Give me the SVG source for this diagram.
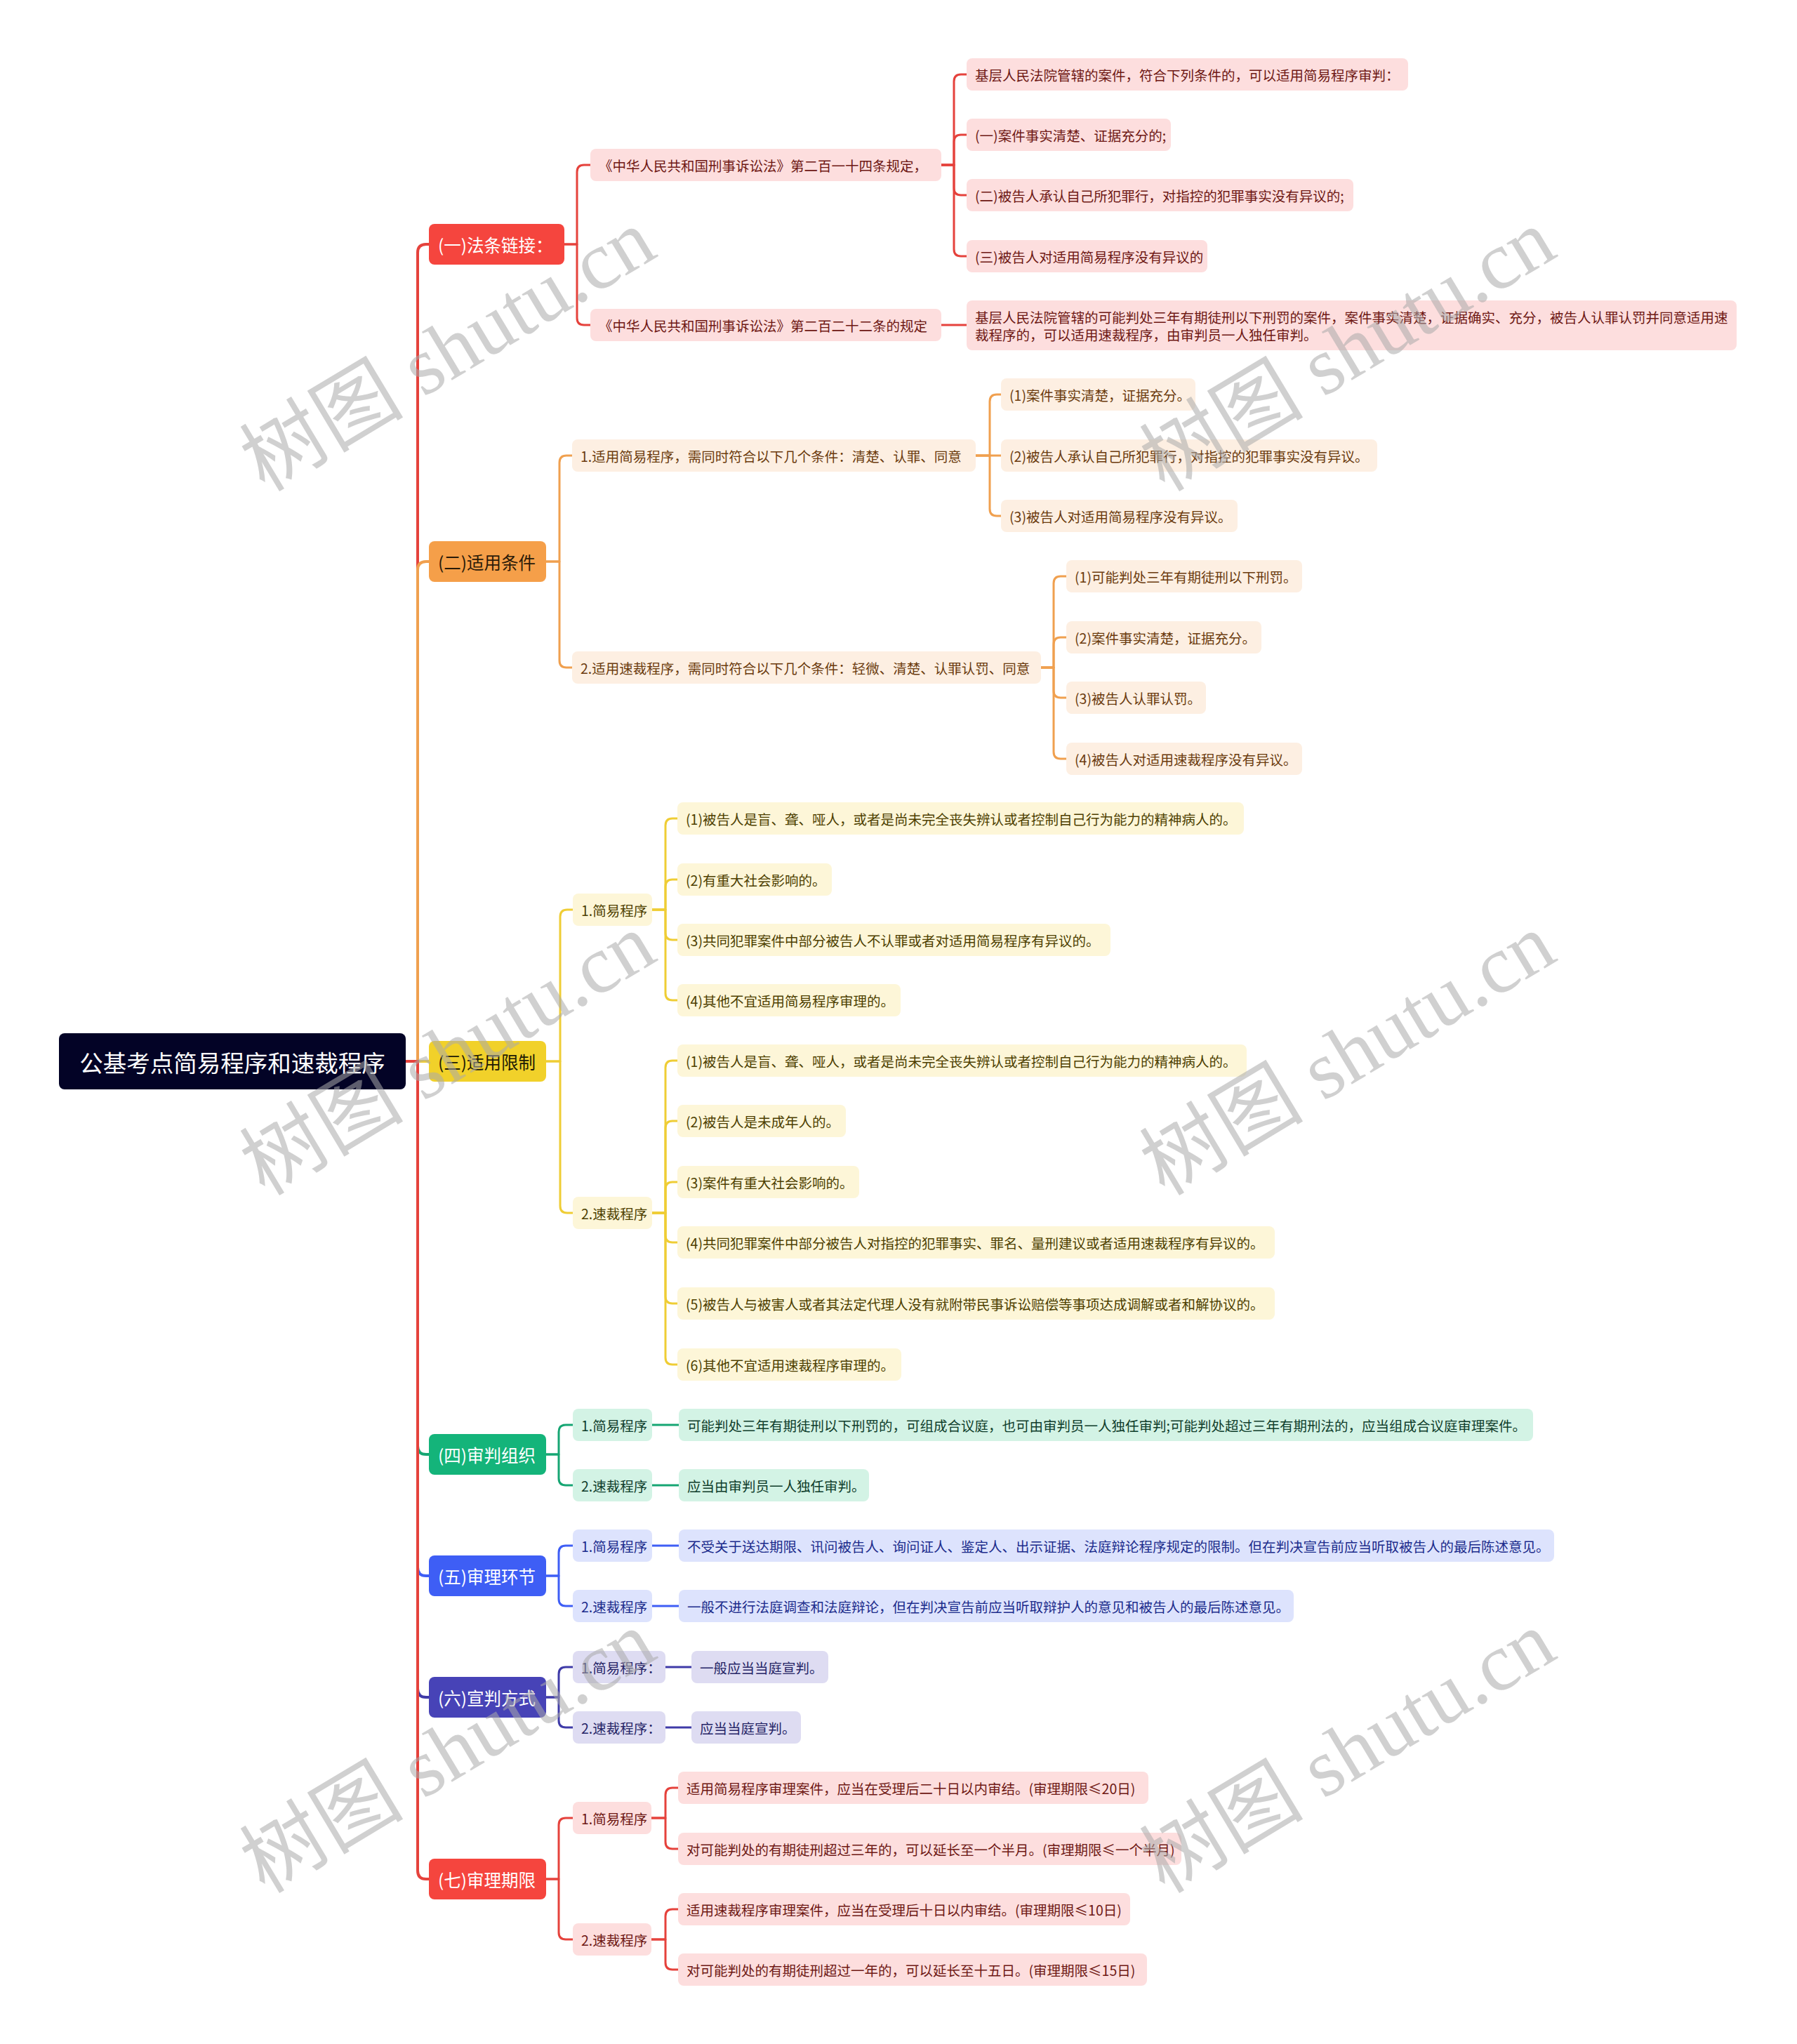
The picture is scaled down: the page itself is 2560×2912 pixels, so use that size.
<svg xmlns="http://www.w3.org/2000/svg" width="2560" height="2912" viewBox="0 0 2560 2912">
<style>
text{font-family:"Noto Sans CJK SC","Noto Sans",sans-serif;}
.t{font-size:19.5px;dominant-baseline:central;}
.l1t{font-size:24.5px;dominant-baseline:central;}
.c{fill:none;stroke-width:3;stroke-linecap:round;stroke-linejoin:round;}
.trunk{stroke-width:4;}
.cr{stroke:#e5423c;}.co{stroke:#f0a04f;}.cy{stroke:#efcd35;}.cg{stroke:#16a673;}.cb{stroke:#3e5ef5;}.ci{stroke:#3f3ba8;}
.r1{fill:#f5453e;}.o1{fill:#f59f49;}.y1{fill:#f1d12a;}.g1{fill:#14b47a;}.b1{fill:#3e5ef5;}.i1{fill:#4743b7;}
.rs{fill:#fddede;}.os{fill:#fdefe2;}.ys{fill:#fdf6d8;}.gs{fill:#d3f3e5;}.bs{fill:#dde3fd;}.is{fill:#dedcf2;}
.rt{fill:#6e1814;}.ot{fill:#6b3b0e;}.yt{fill:#4d3f00;}.gt{fill:#0f3d2b;}.bt{fill:#1c2c8c;}.it{fill:#262567;}
.wt{fill:#ffffff;}.dk{fill:#2a1a08;}
.wm{font-family:"Liberation Serif","Noto Sans CJK SC",serif;font-size:117px;fill:#aaaaaa;fill-opacity:0.55;}
</style>
<rect width="2560" height="2912" fill="#ffffff"/>

<g id="connectors">
<path class="c trunk cr" d="M578 1512 H595 V360 Q595 348 607 348 H611"/>
<path class="c trunk co" d="M578 1512 H595 V812 Q595 800 607 800 H611"/>
<path class="c trunk cy" d="M578 1512 H611"/>
<path class="c trunk cg" d="M578 1512 H595 V2060 Q595 2072 607 2072 H611"/>
<path class="c trunk cb" d="M578 1512 H595 V2233 Q595 2245 607 2245 H611"/>
<path class="c trunk ci" d="M578 1512 H595 V2406 Q595 2418 607 2418 H611"/>
<path class="c trunk cr" d="M578 1512 H595 V2665 Q595 2677 607 2677 H611"/>
<path class="c cr" d="M804 348 H822 V245 Q822 235 832 235 H841"/>
<path class="c cr" d="M804 348 H822 V453 Q822 463 832 463 H841"/>
<path class="c cr" d="M1341 235 H1359 V116 Q1359 106 1369 106 H1377"/>
<path class="c cr" d="M1341 235 H1359 V202 Q1359 192 1369 192 H1377"/>
<path class="c cr" d="M1341 235 H1359 V268 Q1359 278 1369 278 H1377"/>
<path class="c cr" d="M1341 235 H1359 V355 Q1359 365 1369 365 H1377"/>
<path class="c cr" d="M1341 463 H1377"/>
<path class="c co" d="M778 800 H797 V659 Q797 649 807 649 H815"/>
<path class="c co" d="M778 800 H797 V941 Q797 951 807 951 H815"/>
<path class="c co" d="M1390 649 H1410 V572 Q1410 562 1420 562 H1426"/>
<path class="c co" d="M1390 649 H1426"/>
<path class="c co" d="M1390 649 H1410 V725 Q1410 735 1420 735 H1426"/>
<path class="c co" d="M1483 951 H1501 V831 Q1501 821 1511 821 H1519"/>
<path class="c co" d="M1483 951 H1501 V918 Q1501 908 1511 908 H1519"/>
<path class="c co" d="M1483 951 H1501 V984 Q1501 994 1511 994 H1519"/>
<path class="c co" d="M1483 951 H1501 V1071 Q1501 1081 1511 1081 H1519"/>
<path class="c cy" d="M778 1512 H798 V1306 Q798 1296 808 1296 H816"/>
<path class="c cy" d="M778 1512 H798 V1718 Q798 1728 808 1728 H816"/>
<path class="c cy" d="M929 1296 H948 V1176 Q948 1166 958 1166 H965"/>
<path class="c cy" d="M929 1296 H948 V1263 Q948 1253 958 1253 H965"/>
<path class="c cy" d="M929 1296 H948 V1329 Q948 1339 958 1339 H965"/>
<path class="c cy" d="M929 1296 H948 V1415 Q948 1425 958 1425 H965"/>
<path class="c cy" d="M929 1728 H948 V1521 Q948 1511 958 1511 H965"/>
<path class="c cy" d="M929 1728 H948 V1607 Q948 1597 958 1597 H965"/>
<path class="c cy" d="M929 1728 H948 V1694 Q948 1684 958 1684 H965"/>
<path class="c cy" d="M929 1728 H948 V1760 Q948 1770 958 1770 H965"/>
<path class="c cy" d="M929 1728 H948 V1847 Q948 1857 958 1857 H965"/>
<path class="c cy" d="M929 1728 H948 V1934 Q948 1944 958 1944 H965"/>
<path class="c cg" d="M778 2072 H796 V2040 Q796 2030 806 2030 H816"/>
<path class="c cg" d="M778 2072 H796 V2106 Q796 2116 806 2116 H816"/>
<path class="c cg" d="M929 2030 H967"/>
<path class="c cg" d="M929 2116 H967"/>
<path class="c cb" d="M778 2245 H796 V2212 Q796 2202 806 2202 H816"/>
<path class="c cb" d="M778 2245 H796 V2278 Q796 2288 806 2288 H816"/>
<path class="c cb" d="M929 2202 H967"/>
<path class="c cb" d="M929 2288 H967"/>
<path class="c ci" d="M778 2418 H796 V2385 Q796 2375 806 2375 H816"/>
<path class="c ci" d="M778 2418 H796 V2451 Q796 2461 806 2461 H816"/>
<path class="c ci" d="M948 2375 H985"/>
<path class="c ci" d="M948 2461 H985"/>
<path class="c cr" d="M778 2677 H796 V2600 Q796 2590 806 2590 H816"/>
<path class="c cr" d="M778 2677 H796 V2753 Q796 2763 806 2763 H816"/>
<path class="c cr" d="M928 2590 H948 V2557 Q948 2547 958 2547 H966"/>
<path class="c cr" d="M928 2590 H948 V2624 Q948 2634 958 2634 H966"/>
<path class="c cr" d="M928 2763 H948 V2730 Q948 2720 958 2720 H966"/>
<path class="c cr" d="M928 2763 H948 V2796 Q948 2806 958 2806 H966"/>
</g>

<g id="root"><rect x="84" y="1472" width="494" height="80" rx="8" fill="#030326"/><text x="331" y="1512" text-anchor="middle" font-size="33.5" dominant-baseline="central" fill="#ffffff">公基考点简易程序和速裁程序</text></g>

<g id="n1"><rect class="r1" x="611" y="319" width="193" height="58" rx="8"/><text class="l1t wt" x="624" y="348">(一)法条链接：</text></g>
<g id="n1a"><rect class="rs" x="841" y="212" width="500" height="46" rx="8"/><text class="t rt" x="853" y="235">《中华人民共和国刑事诉讼法》第二百一十四条规定，</text></g>
<g id="n1a1"><rect class="rs" x="1377" y="83" width="629" height="46" rx="8"/><text class="t rt" x="1389" y="106">基层人民法院管辖的案件，符合下列条件的，可以适用简易程序审判：</text></g>
<g id="n1a2"><rect class="rs" x="1377" y="169" width="291" height="46" rx="8"/><text class="t rt" x="1389" y="192">(一)案件事实清楚、证据充分的;</text></g>
<g id="n1a3"><rect class="rs" x="1377" y="255" width="551" height="46" rx="8"/><text class="t rt" x="1389" y="278">(二)被告人承认自己所犯罪行，对指控的犯罪事实没有异议的;</text></g>
<g id="n1a4"><rect class="rs" x="1377" y="342" width="343" height="46" rx="8"/><text class="t rt" x="1389" y="365">(三)被告人对适用简易程序没有异议的</text></g>
<g id="n1b"><rect class="rs" x="841" y="440" width="500" height="46" rx="8"/><text class="t rt" x="853" y="463">《中华人民共和国刑事诉讼法》第二百二十二条的规定</text></g>
<g id="n1b1"><rect class="rs" x="1377" y="428" width="1097" height="71" rx="8"/><text class="t rt" x="1389" y="451">基层人民法院管辖的可能判处三年有期徒刑以下刑罚的案件，案件事实清楚，证据确实、充分，被告人认罪认罚并同意适用速</text><text class="t rt" x="1389" y="476">裁程序的，可以适用速裁程序，由审判员一人独任审判。</text></g>

<g id="n2"><rect class="o1" x="611" y="771" width="167" height="58" rx="8"/><text class="l1t dk" x="624" y="800">(二)适用条件</text></g>
<g id="n2a"><rect class="os" x="815" y="626" width="575" height="46" rx="8"/><text class="t ot" x="827" y="649">1.适用简易程序，需同时符合以下几个条件：清楚、认罪、同意</text></g>
<g id="n2a1"><rect class="os" x="1426" y="539" width="277" height="46" rx="8"/><text class="t ot" x="1438" y="562">(1)案件事实清楚，证据充分。</text></g>
<g id="n2a2"><rect class="os" x="1426" y="626" width="536" height="46" rx="8"/><text class="t ot" x="1438" y="649">(2)被告人承认自己所犯罪行，对指控的犯罪事实没有异议。</text></g>
<g id="n2a3"><rect class="os" x="1426" y="712" width="337" height="46" rx="8"/><text class="t ot" x="1438" y="735">(3)被告人对适用简易程序没有异议。</text></g>
<g id="n2b"><rect class="os" x="815" y="928" width="668" height="46" rx="8"/><text class="t ot" x="827" y="951">2.适用速裁程序，需同时符合以下几个条件：轻微、清楚、认罪认罚、同意</text></g>
<g id="n2b1"><rect class="os" x="1519" y="798" width="336" height="46" rx="8"/><text class="t ot" x="1531" y="821">(1)可能判处三年有期徒刑以下刑罚。</text></g>
<g id="n2b2"><rect class="os" x="1519" y="885" width="278" height="46" rx="8"/><text class="t ot" x="1531" y="908">(2)案件事实清楚，证据充分。</text></g>
<g id="n2b3"><rect class="os" x="1519" y="971" width="199" height="46" rx="8"/><text class="t ot" x="1531" y="994">(3)被告人认罪认罚。</text></g>
<g id="n2b4"><rect class="os" x="1519" y="1058" width="336" height="46" rx="8"/><text class="t ot" x="1531" y="1081">(4)被告人对适用速裁程序没有异议。</text></g>

<g id="n3"><rect class="y1" x="611" y="1483" width="167" height="58" rx="8"/><text class="l1t" fill="#1e1a05" x="624" y="1512">(三)适用限制</text></g>
<g id="n3a"><rect class="ys" x="816" y="1273" width="113" height="46" rx="8"/><text class="t yt" x="828" y="1296">1.简易程序</text></g>
<g id="n3a1"><rect class="ys" x="965" y="1143" width="807" height="46" rx="8"/><text class="t yt" x="977" y="1166">(1)被告人是盲、聋、哑人，或者是尚未完全丧失辨认或者控制自己行为能力的精神病人的。</text></g>
<g id="n3a2"><rect class="ys" x="965" y="1230" width="220" height="46" rx="8"/><text class="t yt" x="977" y="1253">(2)有重大社会影响的。</text></g>
<g id="n3a3"><rect class="ys" x="965" y="1316" width="617" height="46" rx="8"/><text class="t yt" x="977" y="1339">(3)共同犯罪案件中部分被告人不认罪或者对适用简易程序有异议的。</text></g>
<g id="n3a4"><rect class="ys" x="965" y="1402" width="318" height="46" rx="8"/><text class="t yt" x="977" y="1425">(4)其他不宜适用简易程序审理的。</text></g>
<g id="n3b"><rect class="ys" x="816" y="1705" width="113" height="46" rx="8"/><text class="t yt" x="828" y="1728">2.速裁程序</text></g>
<g id="n3b1"><rect class="ys" x="965" y="1488" width="811" height="46" rx="8"/><text class="t yt" x="977" y="1511">(1)被告人是盲、聋、哑人，或者是尚未完全丧失辨认或者控制自己行为能力的精神病人的。</text></g>
<g id="n3b2"><rect class="ys" x="965" y="1574" width="240" height="46" rx="8"/><text class="t yt" x="977" y="1597">(2)被告人是未成年人的。</text></g>
<g id="n3b3"><rect class="ys" x="965" y="1661" width="259" height="46" rx="8"/><text class="t yt" x="977" y="1684">(3)案件有重大社会影响的。</text></g>
<g id="n3b4"><rect class="ys" x="965" y="1747" width="851" height="46" rx="8"/><text class="t yt" x="977" y="1770">(4)共同犯罪案件中部分被告人对指控的犯罪事实、罪名、量刑建议或者适用速裁程序有异议的。</text></g>
<g id="n3b5"><rect class="ys" x="965" y="1834" width="851" height="46" rx="8"/><text class="t yt" x="977" y="1857">(5)被告人与被害人或者其法定代理人没有就附带民事诉讼赔偿等事项达成调解或者和解协议的。</text></g>
<g id="n3b6"><rect class="ys" x="965" y="1921" width="319" height="46" rx="8"/><text class="t yt" x="977" y="1944">(6)其他不宜适用速裁程序审理的。</text></g>

<g id="n4"><rect class="g1" x="611" y="2043" width="167" height="58" rx="8"/><text class="l1t wt" x="624" y="2072">(四)审判组织</text></g>
<g id="n4a"><rect class="gs" x="816" y="2007" width="113" height="46" rx="8"/><text class="t gt" x="828" y="2030">1.简易程序</text></g>
<g id="n4a1"><rect class="gs" x="967" y="2007" width="1217" height="46" rx="8"/><text class="t gt" x="979" y="2030">可能判处三年有期徒刑以下刑罚的，可组成合议庭，也可由审判员一人独任审判;可能判处超过三年有期刑法的，应当组成合议庭审理案件。</text></g>
<g id="n4b"><rect class="gs" x="816" y="2093" width="113" height="46" rx="8"/><text class="t gt" x="828" y="2116">2.速裁程序</text></g>
<g id="n4b1"><rect class="gs" x="967" y="2093" width="271" height="46" rx="8"/><text class="t gt" x="979" y="2116">应当由审判员一人独任审判。</text></g>

<g id="n5"><rect class="b1" x="611" y="2216" width="167" height="58" rx="8"/><text class="l1t wt" x="624" y="2245">(五)审理环节</text></g>
<g id="n5a"><rect class="bs" x="816" y="2179" width="113" height="46" rx="8"/><text class="t bt" x="828" y="2202">1.简易程序</text></g>
<g id="n5a1"><rect class="bs" x="967" y="2179" width="1247" height="46" rx="8"/><text class="t bt" x="979" y="2202">不受关于送达期限、讯问被告人、询问证人、鉴定人、出示证据、法庭辩论程序规定的限制。但在判决宣告前应当听取被告人的最后陈述意见。</text></g>
<g id="n5b"><rect class="bs" x="816" y="2265" width="113" height="46" rx="8"/><text class="t bt" x="828" y="2288">2.速裁程序</text></g>
<g id="n5b1"><rect class="bs" x="967" y="2265" width="876" height="46" rx="8"/><text class="t bt" x="979" y="2288">一般不进行法庭调查和法庭辩论，但在判决宣告前应当听取辩护人的意见和被告人的最后陈述意见。</text></g>

<g id="n6"><rect class="i1" x="611" y="2389" width="167" height="58" rx="8"/><text class="l1t wt" x="624" y="2418">(六)宣判方式</text></g>
<g id="n6a"><rect class="is" x="816" y="2352" width="132" height="46" rx="8"/><text class="t it" x="828" y="2375">1.简易程序：</text></g>
<g id="n6a1"><rect class="is" x="985" y="2352" width="195" height="46" rx="8"/><text class="t it" x="997" y="2375">一般应当当庭宣判。</text></g>
<g id="n6b"><rect class="is" x="816" y="2438" width="132" height="46" rx="8"/><text class="t it" x="828" y="2461">2.速裁程序：</text></g>
<g id="n6b1"><rect class="is" x="985" y="2438" width="156" height="46" rx="8"/><text class="t it" x="997" y="2461">应当当庭宣判。</text></g>

<g id="n7"><rect class="r1" x="611" y="2648" width="167" height="58" rx="8"/><text class="l1t wt" x="624" y="2677">(七)审理期限</text></g>
<g id="n7a"><rect class="rs" x="816" y="2567" width="112" height="46" rx="8"/><text class="t rt" x="828" y="2590">1.简易程序</text></g>
<g id="n7a1"><rect class="rs" x="966" y="2524" width="670" height="46" rx="8"/><text class="t rt" x="978" y="2547">适用简易程序审理案件，应当在受理后二十日以内审结。(审理期限≤20日)</text></g>
<g id="n7a2"><rect class="rs" x="966" y="2611" width="717" height="46" rx="8"/><text class="t rt" x="978" y="2634">对可能判处的有期徒刑超过三年的，可以延长至一个半月。(审理期限≤一个半月)</text></g>
<g id="n7b"><rect class="rs" x="816" y="2740" width="112" height="46" rx="8"/><text class="t rt" x="828" y="2763">2.速裁程序</text></g>
<g id="n7b1"><rect class="rs" x="966" y="2697" width="644" height="46" rx="8"/><text class="t rt" x="978" y="2720">适用速裁程序审理案件，应当在受理后十日以内审结。(审理期限≤10日)</text></g>
<g id="n7b2"><rect class="rs" x="966" y="2783" width="668" height="46" rx="8"/><text class="t rt" x="978" y="2806">对可能判处的有期徒刑超过一年的，可以延长至十五日。(审理期限≤15日)</text></g>

<g id="watermarks">
<text class="wm" transform="translate(377 702) rotate(-31)">树图 shutu.cn</text>
<text class="wm" transform="translate(1659 702) rotate(-31)">树图 shutu.cn</text>
<text class="wm" transform="translate(377 1705) rotate(-31)">树图 shutu.cn</text>
<text class="wm" transform="translate(1659 1705) rotate(-31)">树图 shutu.cn</text>
<text class="wm" transform="translate(377 2699) rotate(-31)">树图 shutu.cn</text>
<text class="wm" transform="translate(1659 2699) rotate(-31)">树图 shutu.cn</text>
</g>
</svg>
